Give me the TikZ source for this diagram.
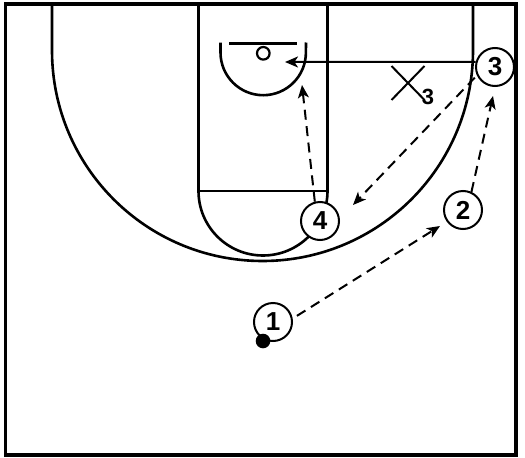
\documentclass[tikz,border=0pt]{standalone}
\usepackage{fontspec}
\setmainfont{Liberation Sans}
\usetikzlibrary{arrows.meta,shapes.misc}
\begin{document}
\begin{tikzpicture}[x=1pt,y=-1pt,
  court/.style={line width=2.6pt,black},
  outline/.style={line width=3.2pt,black},
  player/.style={circle,draw,fill=white,line width=2pt,minimum size=38pt,inner sep=0pt,font=\fontsize{26}{26}\selectfont\bfseries},
  move/.style={line width=2pt,-{Stealth[length=13pt,width=11pt,inset=3.5pt]}},
  dashmove/.style={move,dash pattern=on 10pt off 6.5pt},
  defender/.style={cross out,draw,line width=2pt,minimum width=31pt,minimum height=32pt,inner sep=0pt},
  sub/.style={font=\fontsize{22}{22}\selectfont\bfseries,inner sep=0pt}
]
\useasboundingbox (0,0) rectangle (525,458);
\fill[white] (0,0) rectangle (525,458);
% court outline
\draw[outline] (5.5,4) rectangle (516,455);
% three-point line
\draw[court] (52,4) -- (52,50.5) arc[start angle=180,end angle=0,radius=210.5] -- (473,4);
% lane
\draw[court] (198.5,4) -- (198.5,191) -- (327.5,191) -- (327.5,4);
% free-throw circle
\draw[court] (198.5,191) arc[start angle=180,end angle=0,radius=64.5];
% restricted area
\draw[court] (220.5,42.5) -- (220.5,52.5) arc[start angle=180,end angle=0,radius=42.7] -- (306,42.5);
% backboard and basket
\draw[court] (229,43.3) -- (296.7,43.3);
\draw[line width=2.2pt] (263.3,53.3) circle[radius=6.3];
% players
\node[player] (p1) at (273,322) {1};
\node[player] (p2) at (463,210) {2};
\node[player] (p3) at (495,67) {3};
\node[player] (p4) at (320,221) {4};
\fill (263,341) circle[radius=7.3];
% defender
\node[defender] (x3) at (408,83) {};
\node[sub] (x3sub) at (428,97) {3};
% free ends
\coordinate (t1) at (440,226);
\coordinate (t2) at (493,96);
\coordinate (t3) at (353,205);
\coordinate (t4) at (302,85);
\coordinate (t5) at (285,62);
% movements
\draw[dashmove,shorten <=5pt] (p1.10) -- (t1);
\draw[dashmove] (p2.65) -- (t2);
\draw[dashmove,shorten <=3pt] (p3.205) -- (t3);
\draw[dashmove] (p4.105) -- (t4);
\draw[move] (p3.165) -- (t5);
\end{tikzpicture}
\end{document}
